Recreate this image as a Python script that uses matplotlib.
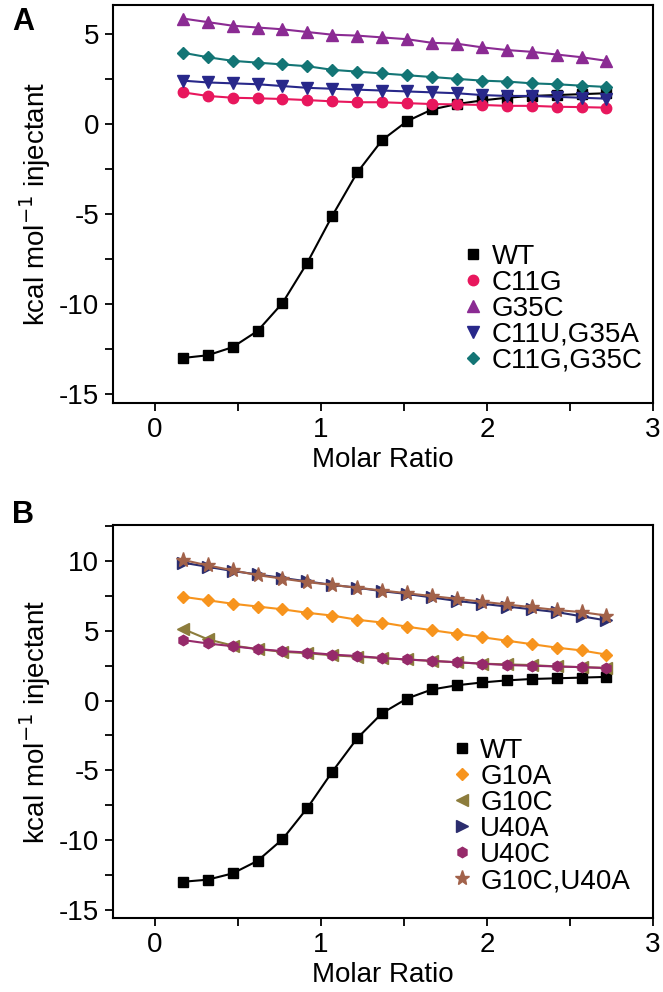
import numpy as np
import matplotlib
matplotlib.use("Agg")
import matplotlib.pyplot as plt
from matplotlib.ticker import MultipleLocator

plt.rcParams['font.family'] = ['Liberation Sans', 'DejaVu Sans']
plt.rcParams['axes.unicode_minus'] = False

# molar ratio (same injections for every titration)
molar_ratio = [0.17, 0.32, 0.47, 0.62, 0.77, 0.92, 1.07, 1.22, 1.37,
               1.52, 1.67, 1.82, 1.97, 2.12, 2.27, 2.42, 2.57, 2.72]

# panel A
wt = [-13.0, -12.85, -12.4, -11.5, -9.95, -7.7, -5.1, -2.7, -0.9,
      0.15, 0.8, 1.1, 1.3, 1.45, 1.55, 1.6, 1.65, 1.7]
c11g = [1.75, 1.55, 1.45, 1.42, 1.38, 1.32, 1.25, 1.2, 1.2,
        1.15, 1.1, 1.08, 1.05, 1.0, 1.0, 0.95, 0.93, 0.9]
g35c = [5.85, 5.65, 5.45, 5.35, 5.25, 5.1, 4.95, 4.9, 4.8,
        4.7, 4.5, 4.45, 4.25, 4.1, 4.0, 3.85, 3.7, 3.5]
c11u_g35a = [2.4, 2.3, 2.25, 2.2, 2.1, 2.0, 1.95, 1.9, 1.85,
             1.8, 1.75, 1.7, 1.6, 1.55, 1.55, 1.5, 1.45, 1.4]
c11g_g35c = [3.95, 3.7, 3.5, 3.4, 3.3, 3.2, 3.0, 2.9, 2.8,
             2.7, 2.6, 2.5, 2.4, 2.35, 2.25, 2.2, 2.12, 2.05]

# panel B
g10a = [7.45, 7.2, 6.95, 6.75, 6.55, 6.3, 6.1, 5.8, 5.6,
        5.3, 5.05, 4.8, 4.55, 4.3, 4.05, 3.8, 3.6, 3.3]
g10c = [5.15, 4.4, 3.95, 3.7, 3.5, 3.4, 3.25, 3.15, 3.05,
        2.95, 2.85, 2.75, 2.65, 2.6, 2.55, 2.45, 2.4, 2.35]
u40a = [9.9, 9.6, 9.3, 9.05, 8.8, 8.55, 8.3, 8.1, 7.85,
        7.65, 7.4, 7.15, 6.95, 6.75, 6.55, 6.35, 6.05, 5.75]
u40c = [4.35, 4.1, 3.9, 3.7, 3.55, 3.45, 3.3, 3.2, 3.05,
        2.95, 2.85, 2.75, 2.65, 2.55, 2.5, 2.45, 2.4, 2.33]
g10c_u40a = [10.1, 9.7, 9.35, 9.0, 8.75, 8.5, 8.3, 8.1, 7.9,
             7.7, 7.5, 7.3, 7.1, 6.9, 6.7, 6.5, 6.35, 6.1]

series_a = [
    ("WT", wt, "s", "black"),
    ("C11G", c11g, "o", "#e8175d"),
    ("G35C", g35c, "^", "#8b2b93"),
    ("C11U,G35A", c11u_g35a, "v", "#28288a"),
    ("C11G,G35C", c11g_g35c, "D", "#137575"),
]
series_b = [
    ("WT", wt, "s", "black"),
    ("G10A", g10a, "D", "#f7941d"),
    ("G10C", g10c, "<", "#8c7c3c"),
    ("U40A", u40a, ">", "#2b2d6e"),
    ("U40C", u40c, "h", "#962a6a"),
    ("G10C,U40A", g10c_u40a, "*", "#a2624a"),
]

FS = 20
W, H = 663, 992
fig = plt.figure(figsize=(W / 100, H / 100), dpi=100)

def box(l, t, r, b):
    return [l / W, 1 - b / H, (r - l) / W, (b - t) / H]

ax_a = fig.add_axes(box(113, 5, 653, 403))
ax_b = fig.add_axes(box(113, 525, 653, 918))

def draw(ax, series, ylim, anchor):
    for name, ys, mk, col in series:
        ms = 7.5
        if mk == "*":
            ms = 11
        elif mk == "D":
            ms = 6.5
        elif mk in ("^", "v", "<", ">"):
            ms = 8.5
        ax.plot(molar_ratio, ys, color=col, lw=1.5, marker=mk, ms=ms,
                mfc=col, mec=col, label=name)
    ax.set_xlim(-0.25, 3)
    ax.set_ylim(*ylim)
    ax.xaxis.set_major_locator(MultipleLocator(1))
    ax.xaxis.set_minor_locator(MultipleLocator(0.5))
    ax.yaxis.set_major_locator(MultipleLocator(5))
    ax.yaxis.set_minor_locator(MultipleLocator(2.5))
    ax.tick_params(which='both', direction='out', width=1.3, length=6,
                   labelsize=FS, pad=4)
    for s in ax.spines.values():
        s.set_linewidth(1.5)
    ax.set_xlabel("Molar Ratio", fontsize=FS, labelpad=3)
    ax.set_ylabel("kcal mol$^{-1}$ injectant", fontsize=FS, labelpad=4)
    leg = ax.legend(loc='upper left', bbox_to_anchor=anchor, frameon=False,
                    fontsize=FS, handlelength=0.6, handletextpad=0.35,
                    labelspacing=0.0, borderaxespad=0, borderpad=0)
    # legend markers only
    for h in leg.get_lines():
        h.set_linestyle('none')

draw(ax_a, series_a, (-15.5, 6.6), (0.652, 0.40))
draw(ax_b, series_b, (-15.6, 12.6), (0.631, 0.458))

fig.text(12 / W, 1 - 22 / H, "A", fontsize=22, fontweight='bold', va='center')
fig.text(12 / W, 1 - 515 / H, "B", fontsize=22, fontweight='bold', va='center')

fig.savefig("out.png", dpi=100)
